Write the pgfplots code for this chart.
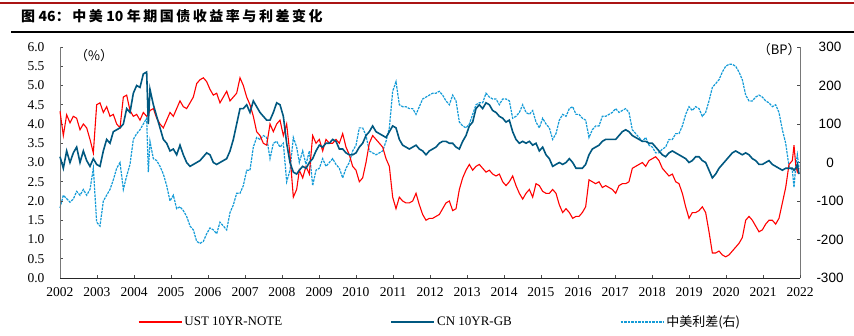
\documentclass[border=0pt]{standalone}
\usepackage{pgfplots}
\pgfplotsset{compat=1.18}
\usepackage{pgfplotstable}
\usepackage{fontspec}
\setmainfont{Liberation Serif}
\newfontfamily\cjk{Noto Sans CJK SC}
\newfontfamily\titlefont{Noto Sans CJK SC}[LetterSpace=18]
\newfontfamily\titlenum{Noto Sans CJK SC}
\newfontfamily\sanslab{Liberation Sans}
\definecolor{usred}{RGB}{255,0,0}
\definecolor{cnblue}{RGB}{0,88,128}
\definecolor{spblue}{RGB}{20,155,215}
\definecolor{titlered}{RGB}{170,20,20}
\definecolor{axgray}{RGB}{120,120,120}

\pgfplotstableread{
x us cn sp
2002.000 4.33 3.15 -118
2002.090 3.70 2.85 -85
2002.180 4.24 3.30 -94
2002.270 4.03 3.00 -103
2002.360 4.20 3.25 -95
2002.450 4.15 3.40 -75
2002.541 3.85 3.00 -85
2002.631 4.00 3.30 -70
2002.721 3.90 3.05 -85
2002.811 3.60 2.90 -70
2002.901 3.25 3.10 -15
2002.991 4.50 2.95 -155
2003.081 4.55 2.90 -165
2003.171 4.30 3.30 -100
2003.261 4.45 3.60 -85
2003.351 4.20 3.50 -70
2003.441 4.25 3.80 -45
2003.532 4.00 3.85 -15
2003.622 3.90 3.90 0
2003.712 4.70 4.00 -70
2003.802 4.75 4.40 -35
2003.892 4.35 4.30 -5
2003.982 4.20 4.80 60
2004.072 4.25 5.00 75
2004.162 4.10 4.95 85
2004.252 4.30 5.30 100
2004.342 4.20 5.35 115
2004.387 4.25 4.00 -25
2004.432 4.35 4.90 55
2004.523 4.40 4.50 10
2004.613 4.15 4.20 5
2004.703 4.00 3.90 -10
2004.793 3.90 3.60 -30
2004.883 4.10 3.50 -60
2004.973 4.30 3.30 -100
2005.063 4.20 3.35 -85
2005.153 4.40 3.20 -120
2005.243 4.60 3.45 -115
2005.333 4.45 3.20 -125
2005.423 4.40 3.00 -140
2005.514 4.55 2.90 -165
2005.604 4.70 2.95 -175
2005.694 5.05 3.00 -205
2005.784 5.15 3.05 -210
2005.874 5.20 3.15 -205
2005.964 5.10 3.25 -185
2006.054 4.90 3.20 -170
2006.144 4.75 3.00 -175
2006.234 4.80 2.95 -185
2006.324 4.55 3.00 -155
2006.414 4.70 3.05 -165
2006.505 4.85 3.10 -175
2006.595 4.60 3.30 -130
2006.685 4.70 3.60 -110
2006.775 4.80 4.00 -80
2006.865 5.20 4.40 -80
2006.955 5.00 4.40 -60
2007.045 4.70 4.50 -20
2007.135 4.50 4.30 -20
2007.225 4.20 4.60 40
2007.315 3.80 4.45 65
2007.405 3.70 4.30 60
2007.495 3.50 4.20 70
2007.586 3.45 4.10 65
2007.676 4.00 4.10 10
2007.766 3.80 4.30 50
2007.856 4.00 4.55 55
2007.946 4.10 4.50 40
2008.036 3.70 4.20 50
2008.126 4.00 3.50 -50
2008.216 3.20 3.00 -20
2008.306 2.10 2.75 65
2008.396 2.30 2.70 40
2008.468 2.80 2.80 0
2008.559 2.60 2.90 30
2008.649 2.90 2.85 -5
2008.739 2.70 3.00 30
2008.829 3.70 3.10 -60
2008.919 3.50 3.30 -20
2009.009 3.60 3.45 -15
2009.099 3.30 3.40 10
2009.189 3.60 3.50 -10
2009.279 3.50 3.50 0
2009.369 3.50 3.60 10
2009.459 3.60 3.55 -5
2009.550 3.50 3.35 -15
2009.640 3.75 3.35 -40
2009.730 3.40 3.25 -15
2009.820 3.20 3.20 0
2009.910 2.90 3.20 30
2010.000 2.80 3.25 45
2010.090 2.50 3.40 90
2010.180 2.60 3.50 90
2010.270 3.00 3.70 70
2010.360 3.50 3.80 30
2010.450 3.70 3.95 25
2010.541 3.60 3.80 20
2010.631 3.50 3.75 25
2010.721 3.40 3.70 30
2010.811 3.10 3.65 55
2010.901 2.90 3.80 90
2010.991 2.10 3.95 185
2011.081 1.80 3.90 210
2011.171 2.10 3.60 150
2011.261 2.00 3.45 145
2011.351 1.95 3.40 145
2011.441 1.95 3.35 140
2011.532 2.00 3.40 140
2011.622 2.20 3.45 125
2011.712 1.90 3.35 145
2011.802 1.65 3.30 165
2011.892 1.50 3.20 170
2011.982 1.55 3.30 175
2012.072 1.55 3.35 180
2012.162 1.60 3.40 180
2012.252 1.65 3.50 185
2012.342 1.80 3.55 175
2012.432 1.95 3.55 160
2012.523 2.00 3.50 150
2012.613 1.75 3.50 175
2012.703 1.80 3.40 160
2012.793 2.30 3.35 105
2012.883 2.60 3.55 95
2012.973 2.80 3.70 90
2013.063 2.95 3.95 100
2013.153 2.80 4.05 125
2013.243 2.90 4.40 150
2013.333 2.95 4.50 155
2013.423 2.85 4.40 155
2013.514 2.75 4.55 180
2013.604 2.80 4.50 170
2013.694 2.70 4.35 165
2013.784 2.65 4.30 165
2013.874 2.70 4.20 150
2013.964 2.50 4.15 165
2014.054 2.40 4.05 165
2014.144 2.50 4.10 160
2014.234 2.65 3.80 115
2014.324 2.40 3.60 120
2014.414 2.20 3.50 130
2014.505 2.05 3.55 150
2014.595 2.20 3.50 130
2014.685 2.30 3.55 125
2014.775 2.10 3.45 135
2014.865 2.45 3.50 105
2014.955 2.40 3.30 90
2015.045 2.25 3.40 115
2015.135 2.20 3.20 100
2015.225 2.20 3.10 90
2015.315 2.30 2.90 60
2015.405 2.20 2.95 75
2015.495 1.90 3.00 110
2015.586 1.70 2.95 125
2015.676 1.80 3.00 120
2015.766 1.70 3.10 140
2015.856 1.55 3.00 145
2015.946 1.60 2.85 125
2016.027 1.60 2.85 125
2016.117 1.70 2.85 115
2016.207 1.85 2.95 110
2016.297 2.55 3.20 65
2016.387 2.50 3.35 85
2016.477 2.45 3.40 95
2016.568 2.50 3.45 95
2016.658 2.35 3.55 120
2016.748 2.40 3.60 120
2016.838 2.35 3.60 125
2016.928 2.30 3.60 130
2017.018 2.20 3.60 140
2017.108 2.40 3.70 130
2017.198 2.45 3.80 135
2017.288 2.45 3.85 140
2017.378 2.50 3.80 130
2017.468 2.85 3.70 85
2017.559 2.90 3.65 75
2017.649 2.95 3.60 65
2017.739 3.00 3.55 55
2017.829 2.90 3.55 65
2017.919 3.05 3.50 45
2018.009 3.10 3.50 40
2018.099 3.15 3.40 25
2018.189 3.05 3.30 25
2018.279 2.85 3.20 35
2018.369 2.75 3.15 40
2018.459 2.65 3.25 60
2018.550 2.70 3.30 60
2018.640 2.50 3.25 75
2018.730 2.45 3.20 75
2018.820 2.20 3.15 95
2018.910 1.85 3.10 125
2019.000 1.55 3.00 145
2019.090 1.70 3.05 135
2019.180 1.70 3.15 145
2019.270 1.75 3.15 140
2019.360 1.85 3.05 120
2019.450 1.70 3.00 130
2019.541 1.20 2.80 160
2019.631 0.65 2.60 195
2019.721 0.65 2.70 205
2019.811 0.70 2.85 215
2019.901 0.60 2.95 235
2019.991 0.55 3.05 250
2020.081 0.60 3.15 255
2020.171 0.70 3.25 255
2020.261 0.80 3.30 250
2020.351 0.90 3.25 235
2020.441 1.05 3.20 215
2020.532 1.50 3.25 175
2020.622 1.60 3.20 160
2020.712 1.50 3.10 160
2020.802 1.35 3.05 170
2020.892 1.20 2.95 175
2020.982 1.25 2.95 170
2021.072 1.40 3.00 160
2021.162 1.50 3.05 155
2021.252 1.50 2.95 145
2021.342 1.40 2.90 150
2021.432 1.55 2.85 130
2021.523 1.95 2.80 85
2021.613 2.35 2.85 50
2021.703 2.95 2.85 -10
2021.793 3.05 2.85 -20
2021.838 3.45 2.80 -65
2021.883 2.95 2.85 -10
2021.928 2.75 2.95 20
2021.973 2.85 2.70 -15
}\datatable

\begin{document}
\begin{tikzpicture}
\useasboundingbox (0,0) rectangle (854pt,335pt);
\draw[titlered, line width=1.5pt] (0,332pt) -- (854pt,332pt);
\draw[black, line width=1.2pt] (11pt,303pt) -- (854pt,303pt);
\node[anchor=west, inner sep=0pt] at (21pt,318.5pt) {\fontsize{14}{16}\selectfont\bfseries{\titlefont 图} {\titlenum 46}{\titlefont ：中美} {\titlenum 10} {\titlefont 年期国债收益率与利差变化}};

\begin{axis}[
  at={(60pt,57pt)}, anchor=south west,
  scale only axis, width=740pt, height=231pt,
  xmin=2002, xmax=2022, ymin=-300, ymax=300,
  axis y line*=right, axis x line=none,
  axis line style={-},
  y axis line style={axgray, line width=0.8pt},
  ytick={-300,-200,-100,0,100,200,300},
  tick align=inside, major tick length=3pt,
  tick style={black!70, line width=0.6pt},
  /pgf/number format/assume math mode=true,
  yticklabel style={font=\fontsize{13.5}{15}\selectfont\sanslab, anchor=center, xshift=30pt},
  clip=false,
]
\addplot[color=spblue, line width=1.2pt, dash pattern=on 2.5pt off 1pt] table[x=x, y=sp] {\datatable};
\node[font=\fontsize{13}{15}\selectfont\cjk] at (rel axis cs:0.972,0.987) {（BP）};
\end{axis}

\begin{axis}[
  at={(60pt,57pt)}, anchor=south west,
  scale only axis, width=740pt, height=231pt,
  xmin=2002, xmax=2022, ymin=0, ymax=6,
  axis y line*=left, axis x line*=bottom,
  axis line style={-},
  x axis line style={black!85, line width=0.8pt},
  y axis line style={axgray, line width=0.8pt},
  xtick={2002,2003,...,2022},
  ytick={0,0.5,1,1.5,2,2.5,3,3.5,4,4.5,5,5.5,6},
  tick align=inside, major tick length=3pt,
  tick style={black!70, line width=0.6pt},
  /pgf/number format/assume math mode=true,
  xticklabel style={/pgf/number format/1000 sep={}, font=\fontsize{13.5}{15}\selectfont, yshift=-6pt},
  yticklabel style={/pgf/number format/.cd, fixed, fixed zerofill, precision=1, /tikz/.cd, font=\fontsize{13.5}{15}\selectfont, xshift=-12pt},
  clip=false,
  legend columns=3,
  legend style={at={(0.101,-0.19)}, anchor=west, draw=none, fill=none,
    font=\fontsize{13}{15}\selectfont,
    /tikz/every even column/.append style={column sep=106pt},
    nodes={inner sep=2pt}},
]
\addplot[color=usred, line width=1.1pt, forget plot] table[x=x, y=us] {\datatable};
\addplot[color=cnblue, line width=1.6pt, forget plot] table[x=x, y=cn] {\datatable};
\addlegendimage{legend image code/.code={\draw[usred, line width=1.5pt] (0pt,0pt) -- (43pt,0pt);}}
\addlegendentry{UST 10YR-NOTE}
\addlegendimage{legend image code/.code={\draw[draw=cnblue, line width=1.8pt] (0pt,0pt) -- (43pt,0pt);}}
\addlegendentry{CN 10YR-GB}
\addlegendimage{legend image code/.code={\draw[draw=spblue, line width=1.5pt, dash pattern=on 2.5pt off 1pt] (0pt,0pt) -- (43pt,0pt);}}
\addlegendentry{{\cjk 中美利差(右)}}
\node[font=\fontsize{13}{15}\selectfont\cjk] at (rel axis cs:0.046,0.961) {（\%）};
\end{axis}
\end{tikzpicture}
\end{document}
